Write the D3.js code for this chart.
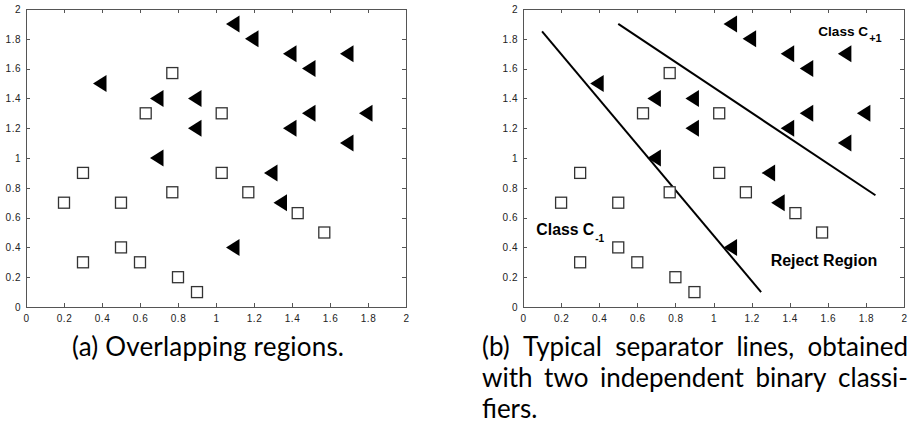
<!DOCTYPE html>
<html><head><meta charset="utf-8">
<script src="https://cdn.jsdelivr.net/npm/d3@7"></script>
<style>body{margin:0;background:#fff;} svg{display:block}</style>
</head><body><svg id="chart" width="911" height="430"></svg>
<script>
// ---- data ----
const squaresX = [0.2, 0.3, 0.3, 0.5, 0.5, 0.6, 0.77, 0.63, 0.77, 0.8, 0.9, 1.03, 1.03, 1.17, 1.43, 1.57];
const squaresY = [0.7, 0.9, 0.3, 0.7, 0.4, 0.3, 0.77, 1.3, 1.57, 0.2, 0.1, 1.3, 0.9, 0.77, 0.63, 0.5];
const trianglesX = [0.4, 0.7, 0.9, 0.9, 0.7, 1.1, 1.2, 1.4, 1.5, 1.7, 1.4, 1.5, 1.8, 1.7, 1.3, 1.35, 1.1];
const trianglesY = [1.5, 1.4, 1.4, 1.2, 1.0, 1.9, 1.8, 1.7, 1.6, 1.7, 1.2, 1.3, 1.3, 1.1, 0.9, 0.7, 0.4];
const separator1X = [0.1, 1.25];
const separator1Y = [1.85, 0.1];
const separator2X = [0.5, 1.85];
const separator2Y = [1.9, 0.75];
const tickValues = [0, 0.2, 0.4, 0.6, 0.8, 1, 1.2, 1.4, 1.6, 1.8, 2];
const tickLabels = ["0", "0.2", "0.4", "0.6", "0.8", "1", "1.2", "1.4", "1.6", "1.8", "2"];
const annotationText = ["Class C", "Class C", "Reject Region"];
const annotationSub = ["+1", "-1", ""];
const annotationX = [1.55, 0.07, 1.3];
const annotationY = [1.82, 0.48, 0.275];
const captionA = "(a) Overlapping regions.";
const captionB = ["(b) Typical separator lines, obtained", "with two independent binary classi-", "fiers."];

const svg = d3.select("#chart");
const yScale = d3.scaleLinear().domain([0, 2]).range([307, 9]);
const panels = [
  { x: d3.scaleLinear().domain([0, 2]).range([26, 406]), lines: false },
  { x: d3.scaleLinear().domain([0, 2]).range([523, 904]), lines: true }
];
const squares = squaresX.map((v, i) => [v, squaresY[i]]);
const triangles = trianglesX.map((v, i) => [v, trianglesY[i]]);
const fmt = d => tickLabels[tickValues.indexOf(d)];

panels.forEach((p, pi) => {
  const g = svg.append("g");
  const x = p.x, y = yScale;
  // frame
  g.append("rect").attr("x", x(0)).attr("y", y(2)).attr("width", x(2) - x(0)).attr("height", y(0) - y(2))
    .attr("fill", "#fff").attr("stroke", "#555").attr("stroke-width", 1).attr("shape-rendering", "crispEdges");
  const style = a => {
    a.select(".domain").remove();
    a.selectAll("line").attr("stroke", "#555").attr("shape-rendering", "crispEdges");
    a.selectAll("text").attr("fill", "#222").style("font-family", "'Liberation Sans', Arial, sans-serif")
      .style("font-size", "10px").style("letter-spacing", "0.5px");
  };
  g.append("g").attr("transform", `translate(0,${y(0)})`)
    .call(d3.axisBottom(x).tickValues(tickValues).tickFormat(fmt).tickSize(-4).tickPadding(8)).call(style);
  g.append("g").attr("transform", `translate(0,${y(2)})`)
    .call(d3.axisTop(x).tickValues(tickValues.slice(1, -1)).tickFormat("").tickSize(-4)).call(style);
  g.append("g").attr("transform", `translate(${x(0)},0)`)
    .call(d3.axisLeft(y).tickValues(tickValues).tickFormat(fmt).tickSize(-4).tickPadding(5)).call(style);
  g.append("g").attr("transform", `translate(${x(2)},0)`)
    .call(d3.axisRight(y).tickValues(tickValues.slice(1, -1)).tickFormat("").tickSize(-4)).call(style);
  g.selectAll(".tick").filter(d => d === 0 || d === 2).select("line").remove();

  if (p.lines) {
    const line = d3.line().x(d => x(d[0])).y(d => y(d[1]));
    [[separator1X, separator1Y], [separator2X, separator2Y]].forEach(([xs, ys]) => {
      g.append("path").attr("d", line(xs.map((v, i) => [v, ys[i]])))
        .attr("fill", "none").attr("stroke", "#000").attr("stroke-width", 2);
    });
  }

  g.selectAll("rect.sq").data(squares).enter().append("rect").attr("class", "sq")
    .attr("x", d => x(d[0]) - 5.5).attr("y", d => y(d[1]) - 5.5).attr("width", 11).attr("height", 11)
    .attr("fill", "#fff").attr("stroke", "#333").attr("stroke-width", 1.3);
  g.selectAll("path.tri").data(triangles).enter().append("path").attr("class", "tri")
    .attr("d", d => {
      const cx = x(d[0]), cy = y(d[1]);
      return `M${cx - 9},${cy}L${cx + 4.5},${cy - 8.5}L${cx + 4.5},${cy + 8.5}Z`;
    }).attr("fill", "#000");

  if (p.lines) {
    const sizes = [13.6, 15.8, 16];
    const subSizes = [11, 10, 0];
    const subDy = [6, 7, 0];
    annotationText.forEach((t, i) => {
      const tx = g.append("text").attr("x", x(annotationX[i])).attr("y", y(annotationY[i]))
        .style("font-family", "'Liberation Sans', Arial, sans-serif").style("font-weight", "bold")
        .style("font-size", sizes[i] + "px").attr("fill", "#000");
      tx.append("tspan").text(t);
      if (annotationSub[i]) tx.append("tspan").attr("dy", subDy[i]).attr("dx", 1)
        .style("font-size", subSizes[i] + "px").text(annotationSub[i]);
    });
  }
});

// captions
const capFont = "Lato, 'Liberation Sans', sans-serif";
svg.append("text").attr("x", 72).attr("y", 356).attr("textLength", 272).attr("lengthAdjust", "spacing")
  .style("font-family", capFont).style("font-size", "26px").attr("fill", "#000").text(captionA);

const lineY = [356, 387, 418];
captionB.forEach((ln, li) => {
  const t = svg.append("text").attr("y", lineY[li]).style("font-family", capFont).style("font-size", "26px").attr("fill", "#000");
  const words = ln.split(" ");
  const spans = words.map(w => t.append("tspan").attr("y", lineY[li]).text(w));
  const widths = spans.map(s => s.node().getComputedTextLength());
  const x0 = 482, x1 = 908;
  const total = d3.sum(widths);
  const justify = li < captionB.length - 1 && words.length > 1;
  const gap = justify ? (x1 - x0 - total) / (words.length - 1) : 7;
  let cx = x0;
  spans.forEach((s, i) => { s.attr("x", cx); cx += widths[i] + gap; });
});
</script></body></html>
